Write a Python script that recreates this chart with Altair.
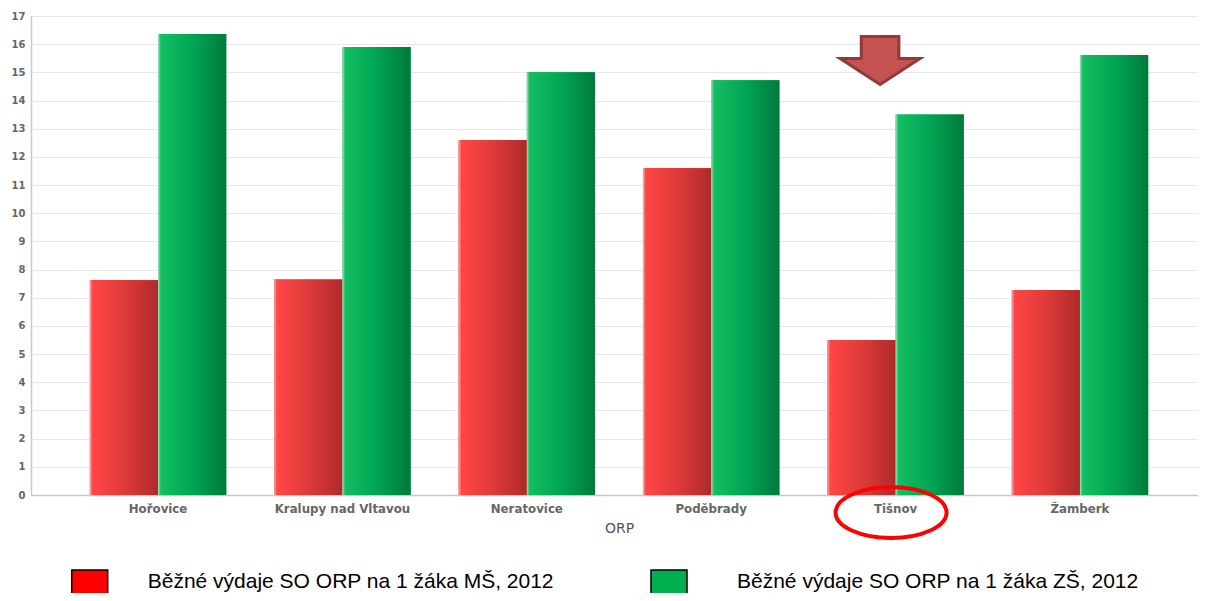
import altair as alt
import pandas as pd

# ---- data ----
orp = ["Hořovice", "Kralupy nad Vltavou", "Neratovice", "Poděbrady", "Tišnov", "Žamberk"]
ms_values = [7.62, 7.65, 12.6, 11.6, 5.5, 7.28]
zs_values = [16.36, 15.9, 15.0, 14.72, 13.5, 15.62]
series_names = [
    "Běžné výdaje SO ORP na 1 žáka MŠ, 2012",
    "Běžné výdaje SO ORP na 1 žáka ZŠ, 2012",
]
series_colors = ["#FF0000", "#00B050"]
highlight = ["Tišnov"]
y_ticks = list(range(0, 18))

rows = []
for i, name in enumerate(orp):
    rows.append({"ORP": name, "series": series_names[0], "value": ms_values[i]})
    rows.append({"ORP": name, "series": series_names[1], "value": zs_values[i]})
df = pd.DataFrame(rows)
hl = pd.DataFrame({"ORP": highlight})

red_grad = alt.LinearGradient(
    gradient="linear", x1=0, y1=0, x2=1, y2=0,
    stops=[
        alt.GradientStop(offset=0, color="#F6B0B0"),
        alt.GradientStop(offset=0.04, color="#FF4646"),
        alt.GradientStop(offset=0.5, color="#E03A3A"),
        alt.GradientStop(offset=1, color="#AE2A2A"),
    ],
)
green_grad = alt.LinearGradient(
    gradient="linear", x1=0, y1=0, x2=1, y2=0,
    stops=[
        alt.GradientStop(offset=0, color="#A8E0C0"),
        alt.GradientStop(offset=0.04, color="#14BE62"),
        alt.GradientStop(offset=0.5, color="#00A653"),
        alt.GradientStop(offset=1, color="#007A3D"),
    ],
)

x_enc = alt.X(
    "ORP:N",
    sort=orp,
    scale=alt.Scale(domain=orp, paddingInner=0.26, paddingOuter=0.319),
    axis=alt.Axis(
        title="ORP", labelAngle=0, ticks=False, grid=False,
        labelFont="DejaVu Sans", labelFontWeight="bold", labelFontSize=11.8,
        labelColor="#666666", labelPadding=8,
        titleFont="DejaVu Sans", titleFontWeight="normal", titleFontSize=14,
        titleColor="#555555", titlePadding=7,
        domainColor="#C8C8C8", domainWidth=1.5,
    ),
)
y_enc = alt.Y(
    "value:Q",
    scale=alt.Scale(domain=[0, 17], nice=False),
    axis=alt.Axis(
        title=None, values=y_ticks, ticks=False, grid=True,
        gridColor="#E8E8E8", gridWidth=1,
        labelFont="DejaVu Sans", labelFontWeight="bold", labelFontSize=10,
        labelColor="#666666", labelPadding=6,
        domainColor="#C8C8C8", domainWidth=1.5,
    ),
)
xoff = alt.XOffset("series:N", sort=series_names, scale=alt.Scale(domain=series_names))


def legend_for(x_pos, offset):
    return alt.Legend(
        title=None, orient="none", legendX=x_pos, legendY=553,
        symbolType="square", symbolSize=1296,
        symbolStrokeColor="black", symbolStrokeWidth=1.5,
        labelFont="Liberation Sans", labelFontSize=21, labelColor="#000000",
        labelOffset=offset, labelLimit=700, labelBaseline="alphabetic", padding=0,
    )


base_ms = alt.Chart(df).transform_filter(
    alt.datum.series == series_names[0]
).mark_bar().encode(
    x=x_enc, xOffset=xoff, y=y_enc,
    color=alt.Color(
        "series:N",
        scale=alt.Scale(domain=[series_names[0]], range=[series_colors[0]]),
        legend=legend_for(39.7, 39),
    ),
)
base_zs = alt.Chart(df).transform_filter(
    alt.datum.series == series_names[1]
).mark_bar().encode(
    x=x_enc, xOffset=xoff, y=y_enc,
    fill=alt.Fill(
        "series:N",
        scale=alt.Scale(domain=[series_names[1]], range=[series_colors[1]]),
        legend=legend_for(619, 49),
    ),
)

red_bars = alt.Chart(df).transform_filter(
    alt.datum.series == series_names[0]
).mark_bar(fill=red_grad).encode(x=x_enc, xOffset=xoff, y=y_enc)

green_bars = alt.Chart(df).transform_filter(
    alt.datum.series == series_names[1]
).mark_bar(fill=green_grad).encode(x=x_enc, xOffset=xoff, y=y_enc)

arrow_path = "M -0.47 -0.6 L 0.47 -0.6 L 0.47 -0.05 L 1 -0.05 L 0 0.6 L -1 -0.05 L -0.47 -0.05 Z"
ry = 0.46
k = 0.5523
ellipse_path = (
    f"M -1 0 C -1 {-k*ry:.4f} {-k:.4f} {-ry} 0 {-ry} "
    f"C {k:.4f} {-ry} 1 {-k*ry:.4f} 1 0 "
    f"C 1 {k*ry:.4f} {k:.4f} {ry} 0 {ry} "
    f"C {-k:.4f} {ry} -1 {k*ry:.4f} -1 0 Z"
)

arrow = alt.Chart(hl).mark_point(
    shape=arrow_path, size=6400, filled=True, fill="#C55250",
    stroke="#8E3B3A", strokeWidth=3, opacity=1, xOffset=-15.5,
).encode(x=x_enc, y=alt.value(44.5))

ellipse = alt.Chart(hl).mark_point(
    shape=ellipse_path, size=12321, filled=False,
    stroke="#FF0000", strokeWidth=4, opacity=1, xOffset=-4.5,
).encode(x=x_enc, y=alt.value(496.5))

chart = alt.layer(base_ms, base_zs, red_bars, green_bars, arrow, ellipse).resolve_scale(
    color="independent", fill="independent"
).resolve_legend(
    color="independent", fill="independent"
).properties(
    width=1176,
    height=479,
    padding={"left": 23, "top": 8, "right": -9, "bottom": 98},
    autosize=alt.AutoSizeParams(type="none"),
    background="white",
).configure_view(stroke=None)

chart.save("out.html", embed_options={"renderer": "svg", "actions": False})
